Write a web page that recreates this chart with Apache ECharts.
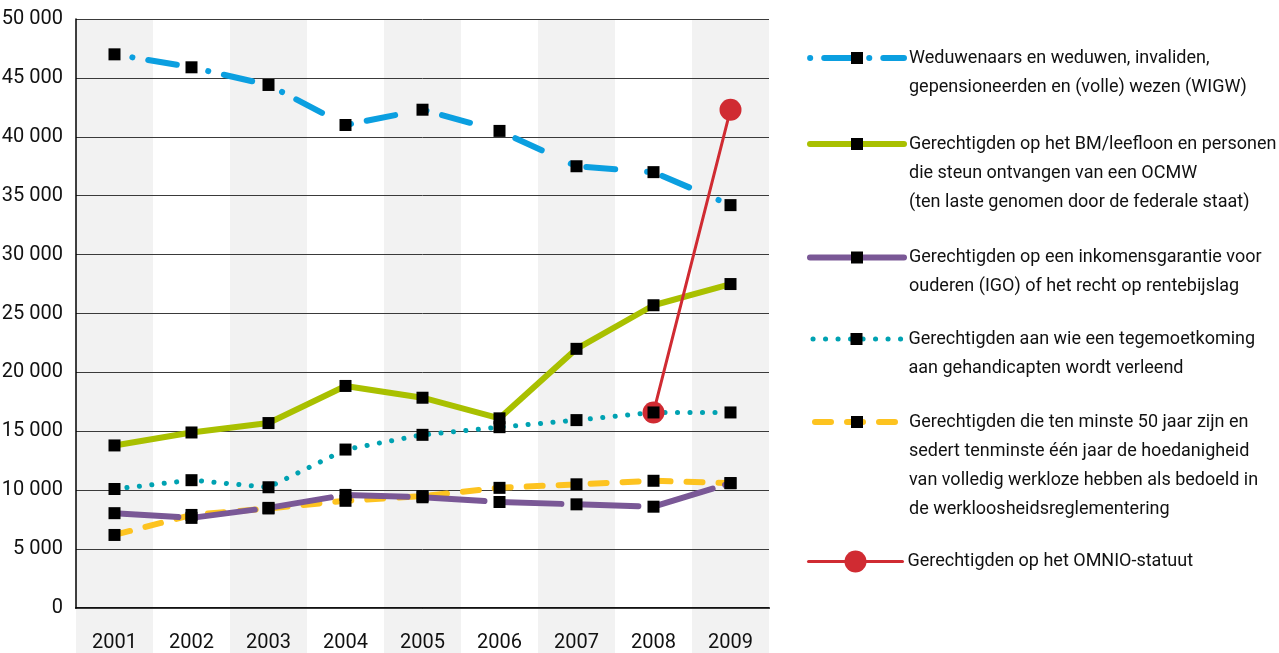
<!DOCTYPE html>
<html>
<head>
<meta charset="utf-8">
<script src="https://cdn.jsdelivr.net/npm/echarts@6/dist/echarts.min.js"></script>
<style>
html,body{margin:0;padding:0;background:#fff;}
#chart{width:1279px;height:653px;}
</style>
</head>
<body>
<div id="chart"></div>
<script>
const years = ['2001', '2002', '2003', '2004', '2005', '2006', '2007', '2008', '2009'];
const wigw = [47000, 45900, 44400, 41000, 42300, 40500, 37500, 37000, 34200];
const leefloon = [13800, 14900, 15700, 18850, 17850, 16100, 22000, 25700, 27500];
const igo = [8050, 7650, 8500, 9600, 9400, 9000, 8800, 8600, 10600];
const handicap = [10100, 10850, 10250, 13450, 14700, 15350, 15950, 16600, 16600];
const werkloos = [6200, 7900, 8450, 9100, 9500, 10200, 10500, 10800, 10600];
const omnio = [null, null, null, null, null, null, null, 16600, 42300];
const yMin = 0, yMax = 50000, yStep = 5000;

const names = [
  'Weduwenaars en weduwen, invaliden,\ngepensioneerden en (volle) wezen (WIGW)',
  'Gerechtigden op het BM/leefloon en personen\ndie steun ontvangen van een OCMW\n(ten laste genomen door de federale staat)',
  'Gerechtigden op een inkomensgarantie voor\nouderen (IGO) of het recht op rentebijslag',
  'Gerechtigden aan wie een tegemoetkoming\naan gehandicapten wordt verleend',
  'Gerechtigden die ten minste 50 jaar zijn en\nsedert tenminste één jaar de hoedanigheid\nvan volledig werkloze hebben als bedoeld in\nde werkloosheidsreglementering',
  'Gerechtigden op het OMNIO-statuut'
];
const colors = ['#0b9fe0', '#a9c000', '#7a5896', '#00a2b2', '#fdc320', '#d02b32'];

const FONT = "Roboto, 'DejaVu Sans Condensed', sans-serif";
const LH = 29;

function fmt(v) { return String(v).replace(/\B(?=(\d{3})+(?!\d))/g, ' '); }

const legendCenters = [58, 144, 257.5, 339, 422, 561.5];
const legendDash = [[0.1, 14, 30, 15], 'solid', 'solid', [0.1, 12.4], [16, 16], 'solid'];
const legendWidth = [6, 6, 6, 5, 6, 3];

const legends = names.map((n, i) => {
  const lines = n.split('\n').length;
  const ih = i === 5 ? 27.5 : 15;
  return {
    data: [n],
    orient: 'vertical',
    left: 807,
    top: legendCenters[i] - Math.max((2 * lines - 1) * LH, ih) / 2,
    padding: 0,
    itemWidth: 94,
    itemHeight: ih,
    selectedMode: false,
    formatter: function (name) { return '\n'.repeat(lines - 1) + name; },
    textStyle: { fontFamily: FONT, fontSize: 18, color: '#111', lineHeight: LH },
    lineStyle: { width: legendWidth[i], type: legendDash[i], cap: 'round' }
  };
});

function lineSeries(name, data, color, width, dash, extra) {
  return Object.assign({
    name: name, type: 'line', data: data, xAxisIndex: 0, yAxisIndex: 0,
    symbol: 'rect', symbolSize: 12, showSymbol: true,
    lineStyle: { color: color, width: width, type: dash, cap: 'round', join: 'round' },
    itemStyle: { color: '#000' },
    emphasis: { disabled: true },
    connectNulls: false
  }, extra || {});
}

const option = {
  animation: false,
  backgroundColor: '#fff',
  legend: legends,
  grid: [
    { left: 76, top: 19, width: 693, height: 589, outerBoundsMode: 'none', containLabel: false },
    { left: 76, top: 608, width: 693, height: 45, outerBoundsMode: 'none', containLabel: false }
  ],
  xAxis: [
    {
      type: 'category', gridIndex: 0, data: years, boundaryGap: true, z: 0,
      axisLine: { show: true, onZero: false, lineStyle: { color: '#111', width: 2 } },
      axisTick: { show: false },
      axisLabel: { show: false },
      splitLine: { show: false },
      splitArea: { show: true, areaStyle: { color: ['#f2f2f2', '#ffffff'] } }
    },
    {
      type: 'category', gridIndex: 1, data: years, boundaryGap: true, position: 'top', z: 0,
      axisLine: { show: false, onZero: false },
      axisTick: { show: false },
      axisLabel: { show: true, inside: true, margin: 25, fontFamily: FONT, fontSize: 20, color: '#111' },
      splitLine: { show: false },
      splitArea: { show: true, areaStyle: { color: ['#f2f2f2', '#ffffff'] } }
    }
  ],
  yAxis: [
    {
      type: 'value', gridIndex: 0, min: yMin, max: yMax, interval: yStep, z: 1,
      axisLine: { show: true, lineStyle: { color: '#000', width: 1.5 } },
      axisTick: { show: false },
      axisLabel: { margin: 13, fontFamily: FONT, fontSize: 20, color: '#111', formatter: fmt },
      splitLine: { show: true, lineStyle: { color: '#3a3a3a', width: 1 } }
    },
    { type: 'value', gridIndex: 1, min: 0, max: 1, show: false }
  ],
  series: [
    lineSeries(names[0], wigw, colors[0], 6, [0.1, 16, 29, 32], { lineStyle: { color: colors[0], width: 6, type: [0.1, 16, 29, 32], dashOffset: 59, cap: 'round', join: 'round' } }),
    lineSeries(names[1], leefloon, colors[1], 6, 'solid'),
    lineSeries(names[5], omnio, colors[5], 3, 'solid', { symbol: 'circle', symbolSize: 22, itemStyle: { color: colors[5] } }),
    lineSeries(names[4], werkloos, colors[4], 6, [16, 16]),
    lineSeries(names[2], igo, colors[2], 6, [64, 13]),
    lineSeries(names[3], handicap, colors[3], 5, [0.1, 12.4])
  ]
};

const chart = echarts.init(document.getElementById('chart'), null, { renderer: 'canvas' });
chart.setOption(option);
</script>
</body>
</html>
